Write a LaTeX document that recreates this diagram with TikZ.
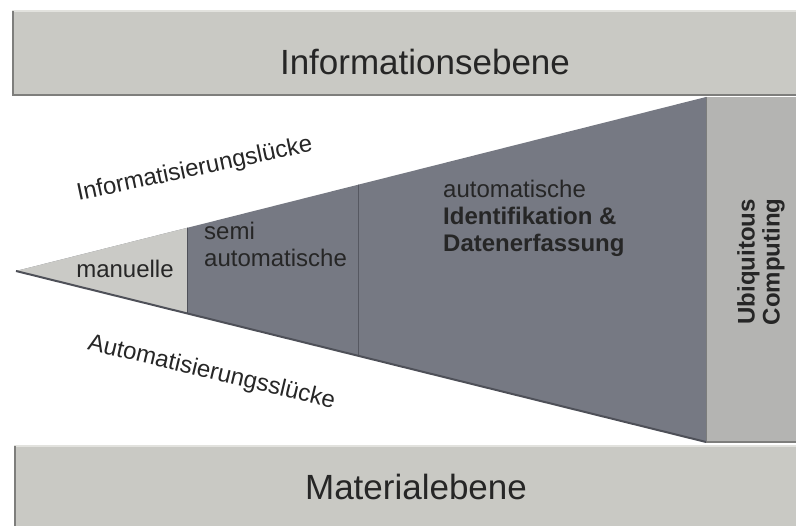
\documentclass[tikz,border=0pt]{standalone}
\usepackage{fontspec}
\setmainfont{Liberation Sans}
\usetikzlibrary{positioning}

\definecolor{barfill}{HTML}{C9C9C4}
\definecolor{barlight}{HTML}{E2E2DE}
\definecolor{bardark}{HTML}{7E7E7C}
\definecolor{sidefill}{HTML}{B4B4B2}
\definecolor{wedgedark}{HTML}{767983}
\definecolor{wedgelight}{HTML}{CACAC6}
\definecolor{wedgeedge}{HTML}{4E5058}
\definecolor{inktext}{HTML}{262626}

\begin{document}
\begin{tikzpicture}[x=1pt, y=-1pt,
    lbl/.style = {font=\fontsize{24}{27}\selectfont, text=inktext, inner sep=0pt},
    big/.style = {font=\fontsize{35}{40}\selectfont, text=inktext, inner sep=0pt}]
  \useasboundingbox (0,0) rectangle (796,526);

  \coordinate (apex) at (16,271);
  \coordinate (top) at (706,97);
  \coordinate (bot) at (706,442);

  % bars
  \fill [barfill] (12,10) rectangle (796,96);
  \draw [barlight, line width=2pt] (12,11) -- (796,11);
  \draw [bardark, line width=2pt] (12,95) -- (796,95);
  \draw [bardark, line width=1.5pt] (13,11) -- (13,95);

  \fill [barfill] (14,445) rectangle (796,526);
  \draw [barlight, line width=2pt] (14,446) -- (796,446);
  \draw [bardark, line width=1.5pt] (15,446) -- (15,526);

  \fill [sidefill] (706,97) rectangle (796,442);
  \draw [bardark, line width=1.5pt] (706,97) -- (706,442);
  \draw [bardark, line width=1.5pt] (706,442) -- (796,442);

  % wedge
  \fill [wedgedark] (apex) -- (top) -- (bot) -- cycle;
  \begin{scope}
    \clip (apex) -- (top) -- (bot) -- cycle;
    \fill [wedgelight] (0,0) rectangle (187,526);
    \draw [wedgeedge, line width=1pt] (187,0) -- (187,526);
    \draw [wedgeedge!80!wedgedark, line width=1pt] (358,0) -- (358,526);
  \end{scope}
  \draw [wedgeedge, line width=2pt] (apex) -- (bot);

  % labels
  \node (info) [big, anchor=base] at (425,75) {Informationsebene};
  \node (mat) [big, anchor=base] at (416,500) {Materialebene};
  \node (igap) [lbl, anchor=base, rotate=12] at (196,176) {Informatisierungslücke};
  \node (agap) [lbl, anchor=base, rotate=-13.5] at (210,379) {Automatisierungsslücke};
  \node (man) [lbl, anchor=base] at (125,278) {manuelle};
  \node (semi) [lbl, anchor=base west, align=left] at (204,267) {semi\\automatische};
  \node (auto) [lbl, anchor=base west, align=left] at (443,252)
    {automatische\\\textbf{Identifikation \&}\\\textbf{Datenerfassung}};
  \node (ubi) [lbl, rotate=90, align=center, font=\fontsize{24}{25}\bfseries] at (761,262)
    {Ubiquitous\\Computing};
\end{tikzpicture}
\end{document}
